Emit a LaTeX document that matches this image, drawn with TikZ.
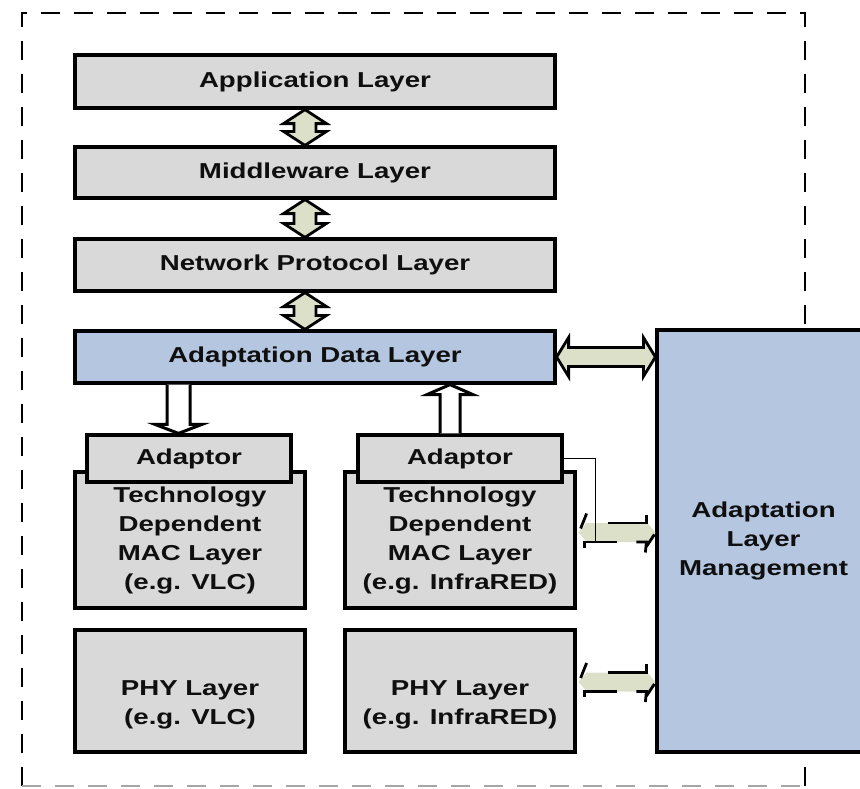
\documentclass[tikz,border=0pt]{standalone}
\usepackage{fontspec}
\setmainfont{Liberation Sans}[FakeStretch=1.28]
\usetikzlibrary{calc}
\definecolor{boxgrey}{RGB}{217,217,217}
\definecolor{boxblue}{RGB}{180,198,224}
\definecolor{arrowfill}{RGB}{221,224,200}
\definecolor{ink}{RGB}{15,15,15}

% vertical double block arrow from #1.south to #2.north, shifted by #3 in x
\newcommand\vdbl[3]{%
  \draw[blk] let \p1=($(#1.south)+(#3,0)$), \p2=($(#2.north)+(#3,0)$) in
    (\x1,\y1) -- (\x1+21.5pt,\y1-14pt) -- (\x1+11pt,\y1-14pt) -- (\x1+11pt,\y2+14pt)
    -- (\x1+21.5pt,\y2+14pt) -- (\x1,\y2) -- (\x1-21.5pt,\y2+14pt) -- (\x1-11pt,\y2+14pt)
    -- (\x1-11pt,\y1-14pt) -- (\x1-21.5pt,\y1-14pt) -- cycle;}

% light double arrow with a broken outline, tips at (#1L) and (#1R)
\newcommand\brokenlink[1]{%
  \fill[arrowfill] (#1L) -- ($(#1L)+(8,-9.5)$) -- ($(#1R)+(-8,-9.5)$) -- (#1R)
    -- ($(#1R)+(-8,9.5)$) -- ($(#1L)+(8,9.5)$) -- cycle;
  \draw[brk] ($(#1L)+(8,-19)$) -- ($(#1L)+(2,-4)$);
  \draw[brk] ($(#1L)+(29,-9.5)$) -- ($(#1R)+(-9,-9.5)$) -- ($(#1R)+(-9,-18)$);
  \draw[brk] ($(#1L)+(6,15)$) -- ($(#1L)+(6,9.5)$) -- ($(#1L)+(38,9.5)$);
  \draw[brk] ($(#1R)+(-19,9.5)$) -- ($(#1R)+(-9,9.5)$) -- ($(#1R)+(-10,20)$);
  \draw[brk] ($(#1R)+(-9,14)$) -- ($(#1R)+(-1,2)$);}

\begin{document}
\begin{tikzpicture}[x=1pt,y=-1pt,
  box/.style={draw=black,line width=3.2pt,fill=boxgrey,inner sep=0pt,align=center,
    font=\fontsize{21.6}{29}\selectfont\bfseries,text=ink},
  bluebox/.style={box,fill=boxblue},
  txt/.style={align=center,font=\fontsize{21.6}{29}\selectfont\bfseries,text=ink},
  blk/.style={draw=black,line width=2.8pt,fill=arrowfill,line join=miter},
  hollow/.style={draw=black,line width=3pt,fill=white},
  brk/.style={draw=black,line width=2.8pt},
  frame/.style={line width=2.4pt,dash pattern=on 19pt off 14pt}]

\useasboundingbox (0,0) rectangle (860,788);
\clip (0,0) rectangle (860,788);

% outer dashed frame
\draw[frame] (22,786) -- (22,13) -- (805,13) -- (805,786);
\draw[frame,draw=black!35] (22,786) -- (805,786);

% protocol stack
\node[box,minimum width=480pt,minimum height=53pt] (app) at (315,81.5) {Application Layer};
\node[box,minimum width=480pt,minimum height=51pt] (mid) at (315,172.5) {Middleware Layer};
\node[box,minimum width=480pt,minimum height=52pt] (net) at (315,265) {Network Protocol Layer};
\node[bluebox,minimum width=480pt,minimum height=52pt] (adl) at (315,357) {Adaptation Data Layer};

% management block
\node[bluebox,minimum width=213pt,minimum height=422pt] (alm) at (763.5,541)
  {Adaptation\\Layer\\Management};

% technology dependent MAC layers with their adaptors
\node[box,minimum width=230pt,minimum height=136pt] (techL) at (190,540)
  {Technology\\Dependent\\MAC Layer\\(e.g. VLC)};
\node[box,minimum width=230pt,minimum height=136pt] (techR) at (460,540)
  {Technology\\Dependent\\MAC Layer\\(e.g. InfraRED)};
\node[box,minimum width=204pt,minimum height=47pt] (adL) at (189,458.5) {Adaptor};
\node[box,minimum width=204pt,minimum height=47pt] (adR) at (460,458.5) {Adaptor};

% physical layers
\node[box,minimum width=230pt,minimum height=122pt] (phyL) at (190,691) {};
\node[box,minimum width=230pt,minimum height=122pt] (phyR) at (460,691) {};
\node[txt] (phyLt) at ($(phyL.center)+(0,14)$) {PHY Layer\\(e.g. VLC)};
\node[txt] (phyRt) at ($(phyR.center)+(0,14)$) {PHY Layer\\(e.g. InfraRED)};

% links between the stacked layers
\vdbl{app}{mid}{-10}
\vdbl{mid}{net}{-10}
\vdbl{net}{adl}{-10}

% adaptation data layer <-> management
\draw[blk] let \p1=(adl.east), \p2=(alm.west) in
  (\x1,\y1) -- (\x1+12pt,\y1+19.5pt) -- (\x1+12pt,\y1+9.5pt) -- (\x2-12pt,\y1+9.5pt)
  -- (\x2-12pt,\y1+19.5pt) -- (\x2,\y1) -- (\x2-12pt,\y1-19.5pt) -- (\x2-12pt,\y1-9.5pt)
  -- (\x1+12pt,\y1-9.5pt) -- (\x1+12pt,\y1-19.5pt) -- cycle;

% hollow arrows to and from the adaptors
\draw[hollow] let \p1=(adl.south), \p2=($(adL.north)+(-10.5,0)$) in
  (\x2-11.5pt,\y1) -- (\x2-11.5pt,\y2+9pt) -- (\x2-23.5pt,\y2+9pt) -- (\x2,\y2)
  -- (\x2+23.5pt,\y2+9pt) -- (\x2+11.5pt,\y2+9pt) -- (\x2+11.5pt,\y1);
\draw[hollow] let \p1=($(adR.north)+(-10,0)$), \p2=(adl.south) in
  (\x1-10pt,\y1) -- (\x1-10pt,\y2-10pt) -- (\x1-23pt,\y2-10pt) -- (\x1,\y2)
  -- (\x1+23pt,\y2-10pt) -- (\x1+10pt,\y2-10pt) -- (\x1+10pt,\y1);

% management links to the InfraRED MAC and PHY layers
\coordinate (mL) at ($(techR.east)+(2,-7.5)$);
\coordinate (mR) at (mL -| alm.west);
\coordinate (pL) at ($(phyR.east)+(2,-9)$);
\coordinate (pR) at (pL -| alm.west);
\brokenlink{m}
\brokenlink{p}

% thin tap from the adaptor
\draw[line width=1.2pt] (adR.east) -| ($(mL)+(17,9.5)$);

\end{tikzpicture}
\end{document}
